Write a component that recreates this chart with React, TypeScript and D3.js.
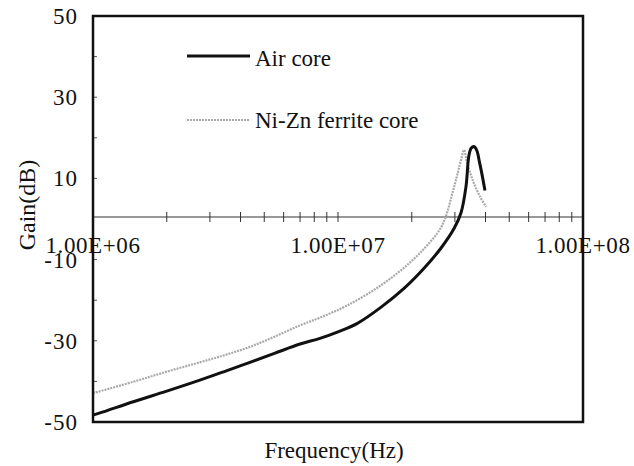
import React from "react";
import * as d3 from "d3";

const airFreq = [1e6, 1.1e6, 1.46e6, 2.0e6, 2.73e6, 3.5e6, 4.37e6, 5.5e6, 7.0e6, 8.44e6, 1.0e7, 1.2e7, 1.5e7, 1.86e7, 2.24e7, 2.63e7, 2.98e7, 3.18e7, 3.33e7, 3.42e7, 3.5e7, 3.6e7, 3.69e7, 3.78e7, 3.87e7, 3.98e7];
const airGain = [-48.3, -47.5, -45, -42.4, -39.7, -37.4, -35.3, -33.1, -30.8, -29.4, -27.8, -25.7, -21.7, -17.1, -12.2, -7.2, -2.3, 1.6, 8, 15.5, 17.5, 17.8, 16.8, 14, 11, 7];

const ferFreq = [1e6, 1.46e6, 2.0e6, 2.73e6, 3.5e6, 4.37e6, 5.5e6, 7.0e6, 8.44e6, 1.09e7, 1.5e7, 1.91e7, 2.31e7, 2.66e7, 2.98e7, 3.18e7, 3.27e7, 3.36e7, 3.55e7, 3.8e7, 4.02e7];
const ferGain = [-42.9, -40.1, -37.6, -35.3, -33.4, -31.5, -29.0, -26.2, -24.3, -21.3, -16.3, -11.4, -6.5, -1.6, 8, 14.6, 17, 14, 9.5, 5.5, 3];

const yTickLabels = [50, 30, 10, -10, -30, -50];
const yMinorTicks = [40, 30, 20, 10, -10, -20, -30, -40];
const xTickLabels = ["1.00E+06", "1.00E+07", "1.00E+08"];
const xTickValues = [1e6, 1e7, 1e8];
const seriesNames = ["Air core", "Ni-Zn ferrite core"];

const W = 634, H = 466;
const L = 93, R = 583, T = 16, B = 422;
const font = "'Liberation Serif', 'DejaVu Serif', 'Times New Roman', serif";
const ts: React.CSSProperties = { fontFamily: font };

export default function App() {
  const x = d3.scaleLog().domain([1e6, 1e8]).range([L, R]);
  const y = d3.scaleLinear().domain([-50, 50]).range([B, T]);
  const line = d3.line<[number, number]>().x(d => x(d[0])).y(d => y(d[1])).curve(d3.curveCatmullRom.alpha(0.5));
  const airPts = airFreq.map((f, i) => [f, airGain[i]] as [number, number]);
  const ferPts = ferFreq.map((f, i) => [f, ferGain[i]] as [number, number]);
  const minor: number[] = [];
  for (let e = 6; e < 8; e++) for (let m = 1; m <= 9; m++) minor.push(m * Math.pow(10, e));
  const y0 = y(0) - 2;
  return (
    <svg width={W} height={H} style={{ position: "absolute", left: 0, top: 0, background: "#fff" }}>
      <rect x={0} y={0} width={W} height={H} fill="#fff" />
      {/* zero axis */}
      <line x1={L} x2={R} y1={y0} y2={y0} stroke="#333" strokeWidth={1} />
      {minor.map((f, i) => (
        <line key={i} x1={x(f)} x2={x(f)} y1={y0 - 5} y2={y0 + 5} stroke="#333" strokeWidth={1} />
      ))}
      {yMinorTicks.map((v, i) => (
        <line key={i} x1={L} x2={L + 4} y1={y(v)} y2={y(v)} stroke="#555" strokeWidth={1} />
      ))}
      {/* series */}
      <path d={line(ferPts) || ""} fill="none" stroke="#aaa" strokeWidth={2.2} strokeDasharray="2 1" />
      <path d={line(airPts) || ""} fill="none" stroke="#111" strokeWidth={3} strokeLinejoin="round" />
      {/* frame */}
      <rect x={L} y={T} width={R - L} height={B - T} fill="none" stroke="#111" strokeWidth={2.5} />
      {/* y labels */}
      {yTickLabels.map((v, i) => (
        <text key={i} style={ts} x={78} y={y(v)} dy="0.35em" textAnchor="end" fontSize={23} fill="#111" letterSpacing={1}>
          {v < 0 ? "-" + Math.abs(v) : String(v)}
        </text>
      ))}
      {/* x labels */}
      {xTickLabels.map((t, i) => (
        <text key={i} style={ts} x={x(xTickValues[i])} y={253} textAnchor="middle" fontSize={23} fill="#111" letterSpacing={0.6}>
          {t}
        </text>
      ))}
      <text style={ts} x={334} y={458} textAnchor="middle" fontSize={23} fill="#111">Frequency(Hz)</text>
      <text style={ts} transform={`translate(35,205) rotate(-90)`} textAnchor="middle" fontSize={24} fill="#111">Gain(dB)</text>
      {/* legend */}
      <line x1={187} x2={250} y1={56} y2={56} stroke="#111" strokeWidth={3} />
      <text style={ts} x={255} y={66} fontSize={23} fill="#111">{seriesNames[0]}</text>
      <line x1={187} x2={250} y1={120} y2={120} stroke="#aaa" strokeWidth={2.2} strokeDasharray="2 1" />
      <text style={ts} x={255} y={128} fontSize={23} fill="#111">{seriesNames[1]}</text>
    </svg>
  );
}
